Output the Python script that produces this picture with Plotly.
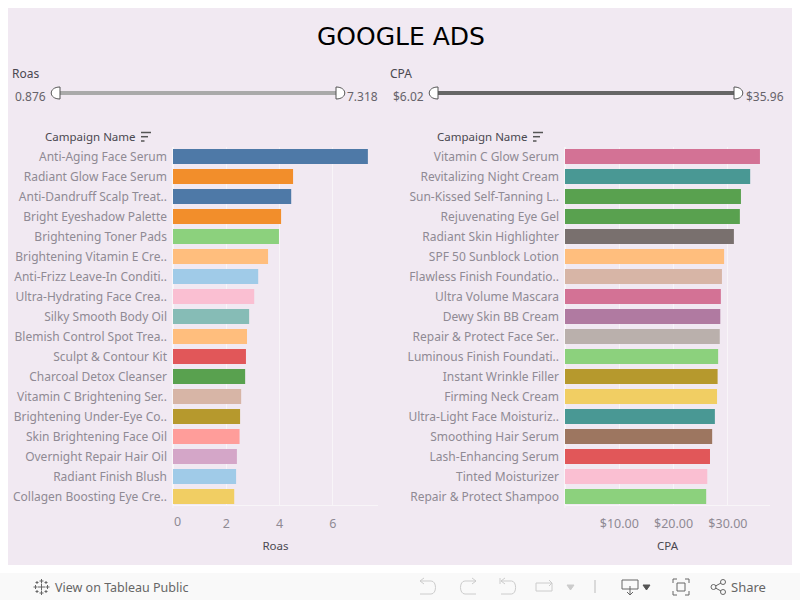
import plotly.graph_objects as go

W, H = 800, 600
FONT = "Noto Sans"
PANEL = "#f1e9f2"
LABEL = "#8f8a94"
HEAD = "#4a4850"

roas_names = [
    "Anti-Aging Face Serum", "Radiant Glow Face Serum", "Anti-Dandruff Scalp Treat..",
    "Bright Eyeshadow Palette", "Brightening Toner Pads", "Brightening Vitamin E Cre..",
    "Anti-Frizz Leave-In Conditi..", "Ultra-Hydrating Face Crea..", "Silky Smooth Body Oil",
    "Blemish Control Spot Trea..", "Sculpt & Contour Kit", "Charcoal Detox Cleanser",
    "Vitamin C Brightening Ser..", "Brightening Under-Eye Co..", "Skin Brightening Face Oil",
    "Overnight Repair Hair Oil", "Radiant Finish Blush", "Collagen Boosting Eye Cre..",
]
roas_values = [7.32, 4.51, 4.44, 4.06, 3.98, 3.57, 3.2, 3.05, 2.86, 2.78, 2.74, 2.71, 2.56, 2.52, 2.5, 2.4, 2.37, 2.3]
roas_colors = [
    "#4e79a7", "#f28e2b", "#4e79a7", "#f28e2b", "#8cd17d", "#ffbe7d", "#a0cbe8", "#fabfd2", "#86bcb6",
    "#ffbe7d", "#e15759", "#59a14f", "#d7b5a6", "#b6992d", "#ff9d9a", "#d4a6c8", "#a0cbe8", "#f1ce63",
]

cpa_names = [
    "Vitamin C Glow Serum", "Revitalizing Night Cream", "Sun-Kissed Self-Tanning L..",
    "Rejuvenating Eye Gel", "Radiant Skin Highlighter", "SPF 50 Sunblock Lotion",
    "Flawless Finish Foundatio..", "Ultra Volume Mascara", "Dewy Skin BB Cream",
    "Repair & Protect Face Ser..", "Luminous Finish Foundati..", "Instant Wrinkle Filler",
    "Firming Neck Cream", "Ultra-Light Face Moisturiz..", "Smoothing Hair Serum",
    "Lash-Enhancing Serum", "Tinted Moisturizer", "Repair & Protect Shampoo",
]
cpa_values = [35.9, 34.1, 32.4, 32.2, 31.1, 29.3, 28.9, 28.7, 28.6, 28.5, 28.2, 28.1, 28.0, 27.6, 27.1, 26.7, 26.2, 26.0]
cpa_colors = [
    "#d37295", "#499894", "#59a14f", "#59a14f", "#79706e", "#ffbe7d", "#d7b5a6", "#d37295", "#b07aa1",
    "#bab0ac", "#8cd17d", "#b6992d", "#f1ce63", "#499894", "#9d7660", "#e15759", "#fabfd2", "#8cd17d",
]

roas_ticks = [2, 4, 6]
cpa_ticks = [10, 20, 30]
cpa_ticktext = ["$10.00", "$20.00", "$30.00"]


def px_x(x):
    return x / W


def px_y(y):
    return 1 - y / H


def rect(x0, y0, x1, y1, color):
    return dict(type="rect", xref="paper", yref="paper", x0=px_x(x0), x1=px_x(x1), y0=px_y(y0), y1=px_y(y1),
                fillcolor=color, line_width=0, layer="below")


def box(x0, y0, x1, y1, color):
    return dict(type="rect", xref="paper", yref="paper", x0=px_x(x0), x1=px_x(x1), y0=px_y(y0), y1=px_y(y1),
                line=dict(color=color, width=1))


def line(x0, y0, x1, y1, color, width=1):
    return dict(type="line", xref="paper", yref="paper", x0=px_x(x0), x1=px_x(x1), y0=px_y(y0), y1=px_y(y1),
                line=dict(color=color, width=width))


def circle(cx, cy, r, color):
    return dict(type="circle", xref="paper", yref="paper", x0=px_x(cx - r), x1=px_x(cx + r), y0=px_y(cy - r), y1=px_y(cy + r),
                line=dict(color=color, width=1))


def path(points, color, width=1, fill="rgba(0,0,0,0)"):
    d = "M" + " L".join(f"{px_x(x):.5f},{px_y(y):.5f}" for x, y in points)
    return dict(type="path", xref="paper", yref="paper", path=d, line=dict(color=color, width=width), fillcolor=fill)


def arc_arrow(x_tip, x_far, y0, y1, color):
    # undo / redo glyph: straight run, round turn, straight run back
    mid = x_far - (x_far - x_tip) * 0.35
    d = (f"M{px_x(x_tip):.5f},{px_y(y0):.5f} L{px_x(mid):.5f},{px_y(y0):.5f} "
         f"C{px_x(x_far):.5f},{px_y(y0):.5f} {px_x(x_far):.5f},{px_y(y1):.5f} {px_x(mid):.5f},{px_y(y1):.5f} "
         f"L{px_x(x_tip):.5f},{px_y(y1):.5f}")
    return dict(type="path", xref="paper", yref="paper", path=d, line=dict(color=color, width=1))


def handle(x_flat, direction, y0=87, y1=99):
    # half round slider knob
    bulge = direction * 9
    d = (f"M{px_x(x_flat):.5f},{px_y(y0):.5f} "
         f"C{px_x(x_flat + bulge * 1.3):.5f},{px_y(y0):.5f} {px_x(x_flat + bulge * 1.3):.5f},{px_y(y1):.5f} "
         f"{px_x(x_flat):.5f},{px_y(y1):.5f} Z")
    return dict(type="path", xref="paper", yref="paper", path=d, line=dict(color="#555555", width=1), fillcolor="#ffffff")


def plus(cx, cy, r, color="#666666"):
    return [line(cx - r, cy, cx + r, cy, color), line(cx, cy - r, cx, cy + r, color)]


def text(x, y, s, size=12, color=LABEL, anchor="left", family=FONT):
    return dict(text=s, xref="paper", yref="paper", x=px_x(x), y=px_y(y), xanchor=anchor, yanchor="middle",
                showarrow=False, font=dict(size=size, color=color, family=family))


fig = go.Figure()
fig.add_trace(go.Bar(x=roas_values, y=roas_names, orientation="h", marker=dict(color=roas_colors, line_width=0),
                     xaxis="x", yaxis="y", showlegend=False))
fig.add_trace(go.Bar(x=cpa_values, y=cpa_names, orientation="h", marker=dict(color=cpa_colors, line_width=0),
                     xaxis="x2", yaxis="y2", showlegend=False))

axis_common = dict(showline=True, linecolor="#f8f5f8", linewidth=1, showgrid=True, gridcolor="#f8f5f8", gridwidth=1,
                   zeroline=True, zerolinecolor="#f8f5f8", tickfont=dict(size=12.5, color=LABEL, family=FONT),
                   ticks="", ticklabelstandoff=7, title_standoff=11, title_font=dict(size=11.5, color=HEAD, family=FONT))
y_common = dict(range=[17.4, -0.475], showgrid=False, showline=False, zeroline=False, ticks="", ticklabelstandoff=5,
                tickfont=dict(size=12, color=LABEL, family=FONT))

toolbar_light = "#cccccc"
toolbar_dark = "#666666"

fig.update_layout(
    width=W, height=H, margin=dict(l=0, r=0, t=0, b=0), paper_bgcolor="#ffffff", plot_bgcolor="rgba(0,0,0,0)",
    bargap=0.25, font=dict(family=FONT), hovermode=False,
    xaxis=dict(domain=[px_x(173), px_x(378)], range=[0, 7.7], tickvals=roas_ticks, title_text="Roas", anchor="y", **axis_common),
    yaxis=dict(domain=[px_y(504.5), px_y(147)], anchor="x", **y_common),
    xaxis2=dict(domain=[px_x(565), px_x(770)], range=[0, 37.75], tickvals=cpa_ticks, ticktext=cpa_ticktext,
                title_text="CPA", anchor="y2", **axis_common),
    yaxis2=dict(domain=[px_y(504.5), px_y(147)], anchor="x2", **y_common),
    shapes=[
        rect(8, 8, 792, 565, PANEL),
        rect(0, 573, 800, 600, "#f9f9f9"),
        rect(60, 91, 336, 95, "#aaaaaa"),
        rect(438, 91, 735, 95, "#666666"),
        handle(60, -1), handle(336, 1), handle(438, -1), handle(734, 1),
        line(173, 504, 173, 508, "#f8f5f8"),
        line(565, 504, 565, 508, "#f8f5f8"),
        # sort icons next to the headers
        line(141, 132.5, 151, 132.5, "#555555", 1.5), line(141, 136.7, 148, 136.7, "#555555", 1.5), line(141, 141, 144.5, 141, "#555555", 1.5),
        line(533, 132.5, 543, 132.5, "#555555", 1.5), line(533, 136.7, 540, 136.7, "#555555", 1.5), line(533, 141, 536.5, 141, "#555555", 1.5),
        # toolbar
        arc_arrow(420, 437, 581, 594, toolbar_light),
        path([(424, 578), (420, 581), (424, 584)], toolbar_light),
        arc_arrow(476, 459, 581, 594, toolbar_light),
        path([(472, 578), (476, 581), (472, 584)], toolbar_light),
        arc_arrow(501, 517, 581, 594, toolbar_light),
        path([(505, 578), (501, 581), (505, 584)], toolbar_light),
        line(500, 578, 500, 584, toolbar_light),
        box(536, 583, 552, 591, toolbar_light),
        path([(549, 580), (552, 583), (549, 586)], toolbar_light),
        path([(567, 585), (574, 585), (570.5, 590), (567, 585)], toolbar_light, fill=toolbar_light),
        line(595, 580, 595, 593, "#bbbbbb"),
        box(622, 580, 638, 589, toolbar_dark),
        line(630, 586, 630, 595, toolbar_dark),
        path([(627, 592), (630, 595), (633, 592)], toolbar_dark),
        path([(643, 585), (650, 585), (646.5, 590), (643, 585)], "#555555", fill="#555555"),
        path([(673, 583), (673, 579), (677, 579)], toolbar_dark),
        path([(685, 579), (689, 579), (689, 583)], toolbar_dark),
        path([(673, 591), (673, 595), (677, 595)], toolbar_dark),
        path([(685, 595), (689, 595), (689, 591)], toolbar_dark),
        box(677, 583, 685, 591, toolbar_dark),
        circle(713.5, 587, 2.5, toolbar_dark), circle(723, 582, 2.5, toolbar_dark), circle(723, 592, 2.5, toolbar_dark),
        line(715.5, 586, 721, 583, toolbar_dark), line(715.5, 588, 721, 591, toolbar_dark),
        # tableau mark
        *plus(41.5, 587, 3.5), *plus(41.5, 581, 2), *plus(41.5, 593, 2), *plus(35.5, 587, 2), *plus(47.5, 587, 2),
        *plus(37, 582.5, 1.5), *plus(46, 582.5, 1.5), *plus(37, 591.5, 1.5), *plus(46, 591.5, 1.5),
    ],
    annotations=[
        text(401, 37, "GOOGLE ADS", size=25, color="#000000", anchor="center", family="DejaVu Sans"),
        text(10, 74, "Roas", color=HEAD),
        text(388, 74, "CPA", color=HEAD),
        text(48, 96, "0.876", anchor="right", color="#66636a"),
        text(345, 96, "7.318", color="#66636a"),
        text(426, 96, "$6.02", anchor="right", color="#66636a"),
        text(744, 96, "$35.96", color="#66636a"),
        text(43, 137, "Campaign Name", size=11.5, color=HEAD),
        text(435, 137, "Campaign Name", size=11.5, color=HEAD),
        text(172, 521, "0", size=12.5),
        text(53, 587, "View on Tableau Public", size=12.5, color="#666666"),
        text(729, 587, "Share", size=13, color="#666666"),
    ],
)

fig.write_html("out.html", config={"displayModeBar": False}, post_script="document.body.style.margin = '0';")
